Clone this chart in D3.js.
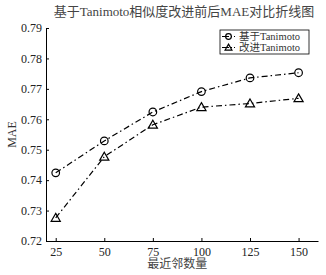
<!DOCTYPE html>
<html>
<head>
<meta charset="utf-8">
<script src="https://cdn.jsdelivr.net/npm/d3@7"></script>
<style>
  body { margin: 0; background: #fff; }
  text { font-family: "Liberation Serif", "Noto Sans CJK SC", serif; }
</style>
</head>
<body>
<svg id="chart" width="326" height="275"></svg>
<script>
const neighbors = [25, 50, 75, 100, 125, 150];
const baseMAE = [0.7424, 0.7529, 0.7624, 0.7691, 0.7736, 0.7753];
const improvedMAE = [0.7276, 0.7477, 0.7582, 0.7640, 0.7652, 0.7669];
const yTicks = [0.72, 0.73, 0.74, 0.75, 0.76, 0.77, 0.78, 0.79];
const seriesNames = ["基于Tanimoto", "改进Tanimoto"];

const svg = d3.select("#chart");
const margin = { top: 28, right: 8, bottom: 34, left: 46 };
const width = 326 - margin.left - margin.right;
const height = 275 - margin.top - margin.bottom;

const g = svg.append("g").attr("transform", `translate(${margin.left},${margin.top})`);

const x = d3.scaleLinear().domain([20, 160]).range([0, width]);
const y = d3.scaleLinear().domain([0.72, 0.79]).range([height, 0]);

// axes (ticks point inward)
const xAxis = g.append("g")
    .attr("transform", `translate(0,${height})`)
    .call(d3.axisBottom(x).tickValues(neighbors).tickSize(-3).tickPadding(6).tickSizeOuter(0));
const yAxis = g.append("g")
    .call(d3.axisLeft(y).tickValues(yTicks).tickFormat(d3.format(".2f")).tickSize(-3).tickPadding(4).tickSizeOuter(0));

[xAxis, yAxis].forEach(a => {
    a.select(".domain").attr("stroke", "#000").attr("stroke-width", 1);
    a.selectAll(".tick line").attr("stroke", "#000");
    a.selectAll("text").attr("fill", "#222").style("font-size", "12px")
        .style("font-family", "'Liberation Serif', serif");
});

const series = [
    { name: seriesNames[0], values: baseMAE, marker: "circle" },
    { name: seriesNames[1], values: improvedMAE, marker: "triangle" }
];

const line = d3.line().x(d => x(d[0])).y(d => y(d[1]));
const dash = "6,3,1.5,3";

function drawMarker(sel, type, cx, cy, scale = 1) {
    if (type === "circle") {
        sel.append("circle").attr("cx", cx).attr("cy", cy).attr("r", 3.8 * scale)
            .attr("fill", "none").attr("stroke", "#000").attr("stroke-width", 1.2);
    } else {
        sel.append("path")
            .attr("d", d3.symbol(d3.symbolTriangle, 36 * scale * scale)())
            .attr("transform", `translate(${cx},${cy + 0.8 * scale})`)
            .attr("fill", "none").attr("stroke", "#000").attr("stroke-width", 1.2);
    }
}

series.forEach(s => {
    const pts = neighbors.map((n, i) => [n, s.values[i]]);
    g.append("path")
        .datum(pts)
        .attr("d", line)
        .attr("fill", "none")
        .attr("stroke", "#000")
        .attr("stroke-width", 1.2)
        .attr("stroke-dasharray", dash);
    pts.forEach(p => drawMarker(g, s.marker, x(p[0]), y(p[1])));
});

// title
svg.append("text")
    .attr("x", 184).attr("y", 16)
    .attr("text-anchor", "middle")
    .attr("fill", "#444")
    .style("font-size", "13px")
    .text("基于Tanimoto相似度改进前后MAE对比折线图");

// axis labels
svg.append("text")
    .attr("x", margin.left + (x(87.5))).attr("y", 268)
    .attr("text-anchor", "middle")
    .attr("fill", "#444")
    .style("font-size", "12px")
    .text("最近邻数量");

svg.append("text")
    .attr("transform", `translate(16,${margin.top + height / 2}) rotate(-90)`)
    .attr("text-anchor", "middle")
    .attr("fill", "#333")
    .style("font-size", "12px")
    .text("MAE");

// legend
const legend = svg.append("g").attr("transform", "translate(220,30)");
legend.append("rect")
    .attr("width", 89).attr("height", 24)
    .attr("fill", "#fff").attr("stroke", "#000").attr("stroke-width", 0.8);
series.forEach((s, i) => {
    const row = legend.append("g").attr("transform", `translate(0,${6.5 + i * 11})`);
    row.append("line")
        .attr("x1", 2).attr("x2", 17).attr("y1", 0).attr("y2", 0)
        .attr("stroke", "#000").attr("stroke-width", 1.2)
        .attr("stroke-dasharray", "7,2,1,2,1,2");
    drawMarker(row, s.marker, 8.5, 0, 0.75);
    row.append("text")
        .attr("x", 19).attr("y", 3.6)
        .attr("fill", "#333")
        .style("font-size", "10.5px")
        .text(s.name);
});
</script>
</body>
</html>
